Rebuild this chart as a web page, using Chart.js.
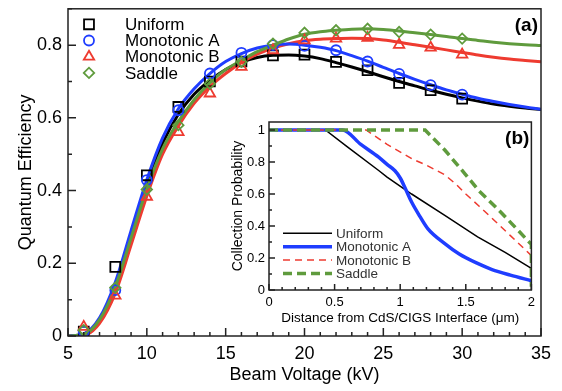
<!DOCTYPE html>
<html><head><meta charset="utf-8">
<script src="https://cdn.jsdelivr.net/npm/chart.js@4.4.1/dist/chart.umd.min.js"></script>
<style>
html,body{margin:0;padding:0;background:#fff;}
#wrap{position:relative;width:562px;height:391px;overflow:hidden;}
#main{position:absolute;left:0;top:0;}
#inset{position:absolute;left:220px;top:110px;}
</style></head><body>
<div id="wrap"><canvas id="main" width="562" height="391"></canvas><canvas id="inset" width="320" height="222"></canvas></div>
<script>
// ---------- data: main panel (a) ----------
const seriesNames = ['Uniform', 'Monotonic A', 'Monotonic B', 'Saddle'];
const voltageTicks = [5, 10, 15, 20, 25, 30, 35];
const qeTicks = [0, 0.2, 0.4, 0.6, 0.8];
const fitVoltage = [5,6,7,8,9,10,11,12,13,14,15,16,17,18,19,20,21,22,23,24,25,26,27,28,29,30,31,32,33,34,35];
const fitUniform  = [0,0.005,0.045,0.14,0.28,0.42,0.53,0.61,0.665,0.703,0.733,0.753,0.766,0.772,0.773,0.77,0.763,0.752,0.74,0.727,0.713,0.70,0.688,0.676,0.665,0.655,0.646,0.638,0.632,0.627,0.623];
const fitMonoA    = [0,0.006,0.05,0.148,0.29,0.43,0.545,0.625,0.68,0.722,0.755,0.777,0.792,0.80,0.803,0.80,0.794,0.785,0.771,0.756,0.739,0.722,0.706,0.691,0.677,0.665,0.654,0.645,0.637,0.63,0.624];
const fitMonoB    = [0,0.002,0.035,0.118,0.25,0.385,0.50,0.578,0.64,0.686,0.722,0.752,0.775,0.792,0.804,0.812,0.816,0.818,0.819,0.818,0.814,0.808,0.801,0.794,0.787,0.78,0.773,0.767,0.762,0.758,0.754];
const fitSaddle   = [0,0.004,0.045,0.135,0.27,0.405,0.515,0.59,0.65,0.697,0.733,0.758,0.782,0.80,0.817,0.83,0.837,0.841,0.844,0.845,0.843,0.839,0.834,0.829,0.824,0.818,0.813,0.808,0.804,0.801,0.799];
const simVoltage = [6,8,10,12,14,16,18,20,22,24,26,28,30];
const simUniform = [0.012,0.19,0.442,0.63,0.70,0.755,0.772,0.774,0.754,0.731,0.696,0.676,0.653];
const simMonoA   = [0.012,0.126,0.429,0.621,0.722,0.779,0.80,0.798,0.786,0.755,0.721,0.690,0.664];
const simMonoB   = [0.025,0.111,0.383,0.561,0.667,0.740,0.786,0.813,0.818,0.820,0.801,0.793,0.774];
const simSaddle  = [0.016,0.133,0.403,0.580,0.694,0.754,0.804,0.834,0.841,0.845,0.836,0.829,0.818];

// ---------- data: inset (b) ----------
const distTicks = [0, 0.5, 1, 1.5, 2];
const probTicks = [0, 0.2, 0.4, 0.6, 0.8, 1];
const cpUniformX = [0,0.43,0.6,0.836,0.9,1.087,1.34,1.59,1.8,2.0];
const cpUniformY = [1,1,0.893,0.747,0.705,0.60,0.467,0.332,0.235,0.135];
const cpMonoAX = [0,0.56,0.7,0.836,0.9,0.96,1.0,1.04,1.087,1.15,1.21,1.34,1.45,1.59,1.7,1.84,2.0];
const cpMonoAY = [1,1,0.91,0.83,0.785,0.745,0.70,0.633,0.55,0.46,0.384,0.29,0.225,0.166,0.128,0.093,0.058];
const cpMonoBX = [0,0.74,0.9,1.09,1.2,1.34,1.42,1.5,1.6,1.75,1.84,2.0];
const cpMonoBY = [1,1,0.91,0.82,0.78,0.72,0.665,0.6,0.525,0.41,0.34,0.215];
const cpSaddleX = [0,1.19,1.25,1.34,1.5,1.6,1.75,1.85,2.0,2.0];
const cpSaddleY = [1,1,0.95,0.875,0.72,0.62,0.50,0.415,0.285,0.02];

// ---------- styles ----------
const FONT = "'Liberation Sans', Arial, Helvetica, sans-serif";
Chart.defaults.font.family = FONT;
Chart.defaults.color = '#000';
const C_BLACK = '#000000', C_BLUE = '#1f3dff', C_RED = '#ee3b30', C_GREEN = '#5f9b3d';
const colors = [C_BLACK, C_BLUE, C_RED, C_GREEN];
const markerStyles = [
  {pointStyle:'rect', radius:7},
  {pointStyle:'circle', radius:5},
  {pointStyle:'triangle', radius:6},
  {pointStyle:'rectRot', radius:5.2}
];
const fmt = v => String(Math.round(v * 100) / 100);
const pts = (xs, ys) => xs.map((x, i) => ({x: x, y: ys[i]}));

function drawMarker(ctx, st, x, y, color) {
  ctx.save();
  ctx.strokeStyle = color; ctx.fillStyle = 'rgba(0,0,0,0)'; ctx.lineWidth = 1.8;
  Chart.helpers.drawPoint(ctx, {pointStyle: st.pointStyle, radius: st.radius, rotation: 0, borderWidth: 1.8}, x, y);
  ctx.restore();
}

function lineDs(data, color, width, dash) {
  return {data: data, showLine: true, borderColor: color, borderWidth: width, borderDash: dash || [],
          pointRadius: 0, pointHoverRadius: 0, fill: false, cubicInterpolationMode: 'monotone', borderCapStyle: 'butt'};
}
function markDs(data, i) {
  return {data: data, showLine: false, borderColor: colors[i], backgroundColor: 'rgba(0,0,0,0)',
          pointStyle: markerStyles[i].pointStyle, pointRadius: markerStyles[i].radius, pointBorderWidth: 1.8, pointHoverRadius: markerStyles[i].radius};
}
function noPad(s) { s.paddingTop = 0; s.paddingBottom = 0; }

// ---------- main chart ----------
const mainDeco = {
  id: 'mainDeco',
  afterDraw(chart) {
    const {ctx, chartArea: a, scales: {x, y}} = chart;
    ctx.save();
    ctx.strokeStyle = '#222'; ctx.lineWidth = 1.5;
    ctx.beginPath();
    for (let v = voltageTicks[0]; v <= voltageTicks[voltageTicks.length - 1]; v++) {
      const px = x.getPixelForValue(v), len = (v % 5 === 0) ? 8 : 4;
      ctx.moveTo(px, a.bottom); ctx.lineTo(px, a.bottom - len);
    }
    for (let i = 0; i <= 9; i++) {
      const py = y.getPixelForValue(i / 10), len = (i % 2 === 0) ? 8 : 4;
      ctx.moveTo(a.left, py); ctx.lineTo(a.left + len, py);
    }
    ctx.stroke();
    ctx.strokeRect(a.left, a.top, a.right - a.left, a.bottom - a.top);
    // legend
    ctx.font = '17px ' + FONT; ctx.fillStyle = '#000'; ctx.textBaseline = 'middle'; ctx.textAlign = 'left';
    for (let i = 0; i < 4; i++) {
      const ly = a.top + 15.5 + i * 16.2;
      drawMarker(ctx, markerStyles[i], a.left + 21, ly, colors[i]);
      ctx.fillText(seriesNames[i], a.left + 57, ly + 1);
    }
    ctx.font = 'bold 19px ' + FONT; ctx.textAlign = 'right';
    ctx.fillText('(a)', a.right - 3, a.top + 17);
    ctx.restore();
  }
};

new Chart(document.getElementById('main'), {
  type: 'scatter',
  data: {datasets: [
    markDs(pts(simVoltage, simSaddle), 3),
    markDs(pts(simVoltage, simMonoB), 2),
    markDs(pts(simVoltage, simMonoA), 1),
    markDs(pts(simVoltage, simUniform), 0),
    lineDs(pts(fitVoltage, fitSaddle), C_GREEN, 3),
    lineDs(pts(fitVoltage, fitMonoA), C_BLUE, 3),
    lineDs(pts(fitVoltage, fitMonoB), C_RED, 3),
    lineDs(pts(fitVoltage, fitUniform), C_BLACK, 3)
  ]},
  options: {
    responsive: false, animation: false, devicePixelRatio: 1,
    layout: {padding: {top: 8, right: 21, left: 0, bottom: 0}},
    plugins: {legend: {display: false}, tooltip: {enabled: false}},
    scales: {
      x: {type: 'linear', min: 5, max: 35,
          afterBuildTicks: s => { s.ticks = voltageTicks.map(v => ({value: v})); },
          ticks: {font: {size: 18}, color: '#000', padding: 7, maxRotation: 0, autoSkip: false, callback: v => fmt(v)},
          grid: {display: false, drawTicks: false}, border: {display: false},
          title: {display: true, text: 'Beam Voltage (kV)', font: {size: 18}, color: '#000', padding: {top: 0, bottom: 5}},
          afterFit: s => { s.height = 55; }},
      y: {type: 'linear', min: 0, max: 0.9,
          afterBuildTicks: s => { s.ticks = qeTicks.map(v => ({value: v})); },
          ticks: {font: {size: 18}, color: '#000', padding: 6, autoSkip: false, callback: v => fmt(v)},
          grid: {display: false, drawTicks: false}, border: {display: false},
          title: {display: true, text: 'Quantum Efficiency', font: {size: 18}, color: '#000', padding: {top: 15, bottom: 0}},
          afterFit: s => { s.width = 68; noPad(s); }}
    }
  },
  plugins: [mainDeco]
});

// ---------- inset chart ----------
const insetDeco = {
  id: 'insetDeco',
  beforeDraw(chart) {
    const {ctx, chartArea: a} = chart;
    ctx.save(); ctx.fillStyle = '#fff';
    ctx.fillRect(a.left, a.top, a.right - a.left, a.bottom - a.top);
    ctx.restore();
  },
  afterDraw(chart) {
    const {ctx, chartArea: a, scales: {x, y}} = chart;
    ctx.save();
    ctx.strokeStyle = '#222'; ctx.lineWidth = 1.5;
    ctx.beginPath();
    for (let i = 0; i <= 20; i++) {
      const px = x.getPixelForValue(i / 10), len = (i % 5 === 0) ? 6 : 3;
      ctx.moveTo(px, a.bottom); ctx.lineTo(px, a.bottom - len);
    }
    for (let i = 0; i <= 10; i++) {
      const py = y.getPixelForValue(i / 10), len = (i % 2 === 0) ? 6 : 3;
      ctx.moveTo(a.left, py); ctx.lineTo(a.left + len, py);
    }
    ctx.stroke();
    ctx.strokeRect(a.left, a.top, a.right - a.left, a.bottom - a.top);
    // legend
    const ls = [
      {c: C_BLACK, w: 1.5, d: []}, {c: C_BLUE, w: 3.5, d: []},
      {c: C_RED, w: 1.5, d: [7, 5]}, {c: C_GREEN, w: 3.5, d: [9, 5]}
    ];
    ctx.font = '13.5px ' + FONT; ctx.fillStyle = '#333'; ctx.textBaseline = 'middle'; ctx.textAlign = 'left';
    for (let i = 0; i < 4; i++) {
      const ly = a.bottom - 56.7 + i * 13.4;
      ctx.save();
      ctx.strokeStyle = ls[i].c; ctx.lineWidth = ls[i].w; ctx.setLineDash(ls[i].d);
      ctx.beginPath(); ctx.moveTo(a.left + 14, ly); ctx.lineTo(a.left + 63, ly); ctx.stroke();
      ctx.restore();
      ctx.fillText(seriesNames[i], a.left + 67, ly + 1);
    }
    ctx.fillStyle = '#000';
    ctx.font = 'bold 19px ' + FONT; ctx.textAlign = 'right';
    ctx.fillText('(b)', a.right - 2, a.top + 17);
    ctx.restore();
  }
};

function insetLine(data, color, width, dash, smooth) {
  const d = lineDs(data, color, width, dash);
  d.cubicInterpolationMode = smooth ? 'monotone' : 'default';
  d.tension = 0;
  return d;
}

new Chart(document.getElementById('inset'), {
  type: 'scatter',
  data: {datasets: [
    insetLine(pts(cpSaddleX, cpSaddleY), C_GREEN, 3.5, [9, 5], false),
    insetLine(pts(cpMonoBX, cpMonoBY), C_RED, 1.5, [7, 5], false),
    insetLine(pts(cpMonoAX, cpMonoAY), C_BLUE, 3.5, [], true),
    insetLine(pts(cpUniformX, cpUniformY), C_BLACK, 1.5, [], false)
  ]},
  options: {
    responsive: false, animation: false, devicePixelRatio: 1,
    layout: {padding: {top: 12, right: 6, left: 0, bottom: 0}},
    plugins: {legend: {display: false}, tooltip: {enabled: false}},
    scales: {
      x: {type: 'linear', min: 0, max: 2,
          afterBuildTicks: s => { s.ticks = distTicks.map(v => ({value: v})); },
          ticks: {font: {size: 13}, color: '#000', padding: 5, maxRotation: 0, autoSkip: false, callback: v => fmt(v)},
          grid: {display: false, drawTicks: false}, border: {display: false},
          title: {display: true, text: 'Distance from CdS/CIGS Interface (\u03bcm)', font: {size: 13.5}, color: '#000', padding: {top: 0, bottom: 6}},
          afterFit: s => { s.height = 42; }},
      y: {type: 'linear', min: 0, max: 1.05,
          afterBuildTicks: s => { s.ticks = probTicks.map(v => ({value: v})); },
          ticks: {font: {size: 13}, color: '#000', padding: 4, autoSkip: false, callback: v => fmt(v)},
          grid: {display: false, drawTicks: false}, border: {display: false},
          title: {display: true, text: 'Collection Probability', font: {size: 14}, color: '#000', padding: {top: 10, bottom: 0}},
          afterFit: s => { s.width = 49; noPad(s); }}
    }
  },
  plugins: [insetDeco]
});
</script>
</body></html>
